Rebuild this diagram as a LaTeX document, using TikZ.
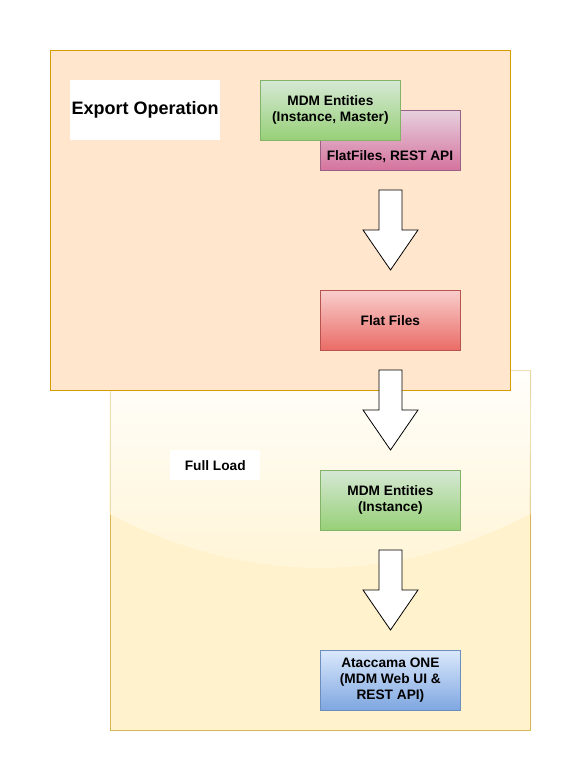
\documentclass[tikz,border=0pt]{standalone}
\usepackage{fontspec}
\setmainfont{Liberation Sans}
\definecolor{expfill}{HTML}{FFE6CC}
\definecolor{expline}{HTML}{D79B00}
\definecolor{ctfill}{HTML}{FFF2CC}
\definecolor{ctline}{HTML}{D6B656}
\definecolor{glasstop}{HTML}{FFFEFA}
\definecolor{glassbot}{HTML}{FFF4D4}
\definecolor{gtop}{HTML}{D5E8D4}
\definecolor{gbot}{HTML}{97D077}
\definecolor{gline}{HTML}{82B366}
\definecolor{ptop}{HTML}{E6D0DE}
\definecolor{pbot}{HTML}{D5739D}
\definecolor{pline}{HTML}{996185}
\definecolor{rtop}{HTML}{F8CECC}
\definecolor{rbot}{HTML}{EA6B66}
\definecolor{rline}{HTML}{B85450}
\definecolor{btop}{HTML}{DAE8FC}
\definecolor{bbot}{HTML}{7EA6E0}
\definecolor{bline}{HTML}{6C8EBF}
\tikzset{
  box/.style={draw, line width=0.8pt, minimum width=140pt, minimum height=60pt, inner sep=0pt,
    align=center, font=\fontsize{13.7}{16}\selectfont\bfseries, anchor=north west},
  greenbox/.style={box, draw=gline, top color=gtop, bottom color=gbot},
  pinkbox/.style={box, draw=pline, top color=ptop, bottom color=pbot},
  redbox/.style={box, draw=rline, top color=rtop, bottom color=rbot},
  bluebox/.style={box, draw=bline, top color=btop, bottom color=bbot},
  label/.style={fill=white, inner sep=0pt, anchor=north west, align=center},
  blockarrow/.style={draw=black, fill=white, line width=0.8pt, line join=miter},
}
\newcommand{\blockarr}[2]{% #1 = x centre, #2 = top y
  \draw[blockarrow] (#1-11.5,#2) -- (#1+11.5,#2) -- (#1+11.5,#2+40) -- (#1+27.5,#2+40)
    -- (#1,#2+80) -- (#1-27.5,#2+40) -- (#1-11.5,#2+40) -- cycle;}
\begin{document}
\begin{tikzpicture}[x=1pt,y=-1pt]
\useasboundingbox (0,0) rectangle (581,781);
\fill[white] (0,0) rectangle (581,781);
% Full Load container
\node[draw=ctline, fill=ctfill, line width=0.8pt, minimum width=420pt, minimum height=360pt,
  inner sep=0pt, anchor=north west] (fullc) at (110,370) {};
\shade[top color=glasstop, bottom color=glassbot]
  (109.6,370) -- (530.4,370) -- (530.4,514) .. controls (390,586) and (250,586) .. (109.6,514) -- cycle;
\draw[ctline!45, line width=0.8pt] (fullc.north west) -- (110,514);
\draw[ctline!45, line width=0.8pt] (fullc.north east) -- (530,514);
\draw[ctline!45, line width=0.8pt] (fullc.north west) -- (fullc.north east);
% Export container
\node[draw=expline, fill=expfill, line width=0.8pt, minimum width=460pt, minimum height=340pt,
  inner sep=0pt, anchor=north west] (expc) at (50,50) {};
% labels
\node[label, minimum width=150pt, minimum height=60pt, font=\fontsize{18}{20}\selectfont\bfseries]
  (explbl) at (70,80) {Export Operation};
\node[label, minimum width=90pt, minimum height=30pt, font=\fontsize{13.7}{16}\selectfont\bfseries]
  (fulllbl) at (170,450) {Full Load};
% boxes
\node[pinkbox] (flat) at (320,110) {};
\node[font=\fontsize{13.7}{16}\selectfont\bfseries] (flattxt) at (390,157) {FlatFiles, REST API};
\node[greenbox] (mdm1) at (260,80) {MDM Entities\\(Instance, Master)};
\node[redbox] (ff) at (320,290) {Flat Files};
\node[greenbox] (mdm2) at (320,470) {MDM Entities\\(Instance)};
\node[bluebox] (ata) at (320,650) {Ataccama ONE\\(MDM Web UI \&\\REST API)};
% block arrows
\blockarr{390.5}{190}
\blockarr{390.5}{370}
\blockarr{390.5}{550}
\end{tikzpicture}
\end{document}
